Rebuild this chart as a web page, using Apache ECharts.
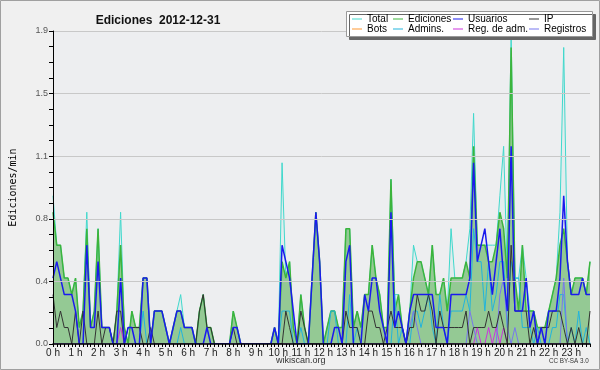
<!DOCTYPE html>
<html>
<head>
<meta charset="utf-8">
<script src="https://cdn.jsdelivr.net/npm/echarts@6/dist/echarts.min.js"></script>
<style>
html,body{margin:0;padding:0;background:#f0f0f0;}
#c{width:600px;height:370px;}
</style>
</head>
<body>
<div id="c"></div>
<script>
// Hour tick labels (one every 6 ten-minute slots)
const hourLabels = ['0 h','1 h','2 h','3 h','4 h','5 h','6 h','7 h','8 h','9 h','10 h','11 h',
  '12 h','13 h','14 h','15 h','16 h','17 h','18 h','19 h','20 h','21 h','22 h','23 h'];
// 10-minute slots of the day
const slots = [];
for (let h = 0; h < 24; h++) for (let m = 0; m < 60; m += 10) slots.push(h + ':' + (m < 10 ? '0' : '') + m);

const total = [
 0.9,0.6,0.6,0.4,0.4,0.3, 0.4,0.1,0.2,0.8,0.1,0.2, 0.7,0.1,0.1,0.1,0,0.2, 0.8,0.1,0,0.2,0.1,0.1,
 0.4,0.4,0,0.2,0.2,0.2, 0.1,0,0.1,0.2,0.3,0.1, 0.1,0.1,0,0.2,0.3,0.1, 0.1,0,0,0,0,0,
 0.2,0.1,0,0,0,0, 0,0,0,0,0,0.1, 0,1.1,0.4,0.5,0.1,0, 0.3,0.1,0,0.4,0.8,0.5,
 0,0.1,0.2,0.2,0.1,0.1, 0.7,0.7,0.1,0.2,0.1,0.3, 0.3,0.6,0.4,0.3,0.1,0.1, 1.0,0.3,0.3,0.1,0,0.2,
 0.6,0.5,0.5,0.4,0.3,0.6, 0.3,0.3,0.4,0.2,0.7,0.4, 0.4,0.4,0.5,0.7,1.4,0.6, 0.6,0.6,0.6,0.6,0.6,0.9,
 1.2,0.4,1.9,0.4,0.4,0.6, 0.4,0.2,0.2,0.1,0.1,0.1, 0.2,0.3,0.4,0.8,1.8,0.5, 0.3,0.4,0.4,0.4,0.3,0.5
];
const ediciones = [
 0.8,0.6,0.6,0.4,0.4,0.3, 0.4,0.1,0.2,0.7,0.1,0.2, 0.7,0.1,0.1,0.1,0,0.2, 0.6,0.1,0,0.2,0.1,0.1,
 0.4,0.4,0,0.2,0.2,0.2, 0.1,0,0.1,0.2,0.2,0.1, 0.1,0.1,0,0.2,0.3,0.1, 0.1,0,0,0,0,0,
 0.2,0.1,0,0,0,0, 0,0,0,0,0,0.1, 0,0.5,0.4,0.5,0.1,0, 0.3,0.1,0,0.4,0.8,0.5,
 0,0.1,0.2,0.2,0.1,0.1, 0.7,0.7,0.1,0.2,0.1,0.3, 0.3,0.6,0.4,0.3,0.1,0.1, 1.0,0.2,0.3,0.1,0,0.2,
 0.4,0.5,0.5,0.4,0.3,0.6, 0.3,0.3,0.4,0.2,0.4,0.4, 0.4,0.4,0.5,0.4,1.2,0.6, 0.6,0.6,0.5,0.5,0.6,0.8,
 0.7,0.4,1.8,0.4,0.2,0.6, 0.2,0.2,0.2,0.1,0.1,0.1, 0.2,0.3,0.4,0.6,0.7,0.5, 0.3,0.4,0.4,0.4,0.3,0.5
];
const usuarios = [
 0.4,0.5,0.4,0.3,0.3,0.3, 0.2,0,0,0.6,0.1,0.1, 0.5,0.1,0.1,0.1,0,0, 0.4,0,0.1,0.1,0,0,
 0.4,0.4,0,0.2,0.2,0.2, 0.1,0,0.1,0.2,0.2,0.1, 0.1,0.1,0,0,0,0.1, 0,0,0,0,0,0,
 0.1,0.1,0,0,0,0, 0,0,0,0,0,0.1, 0,0.6,0.5,0.4,0.2,0, 0,0,0,0.4,0.8,0.5,
 0,0,0,0.1,0.1,0, 0.5,0.6,0,0,0,0.3, 0.2,0.4,0.4,0.2,0.1,0, 0.8,0.1,0.2,0.1,0,0.2,
 0.3,0.3,0.3,0.3,0.3,0.3, 0.1,0.1,0.1,0,0.3,0.3, 0.3,0.3,0.3,0.4,1.1,0.5, 0.6,0.7,0.5,0.3,0.5,0.7,
 0.4,0.2,1.2,0.2,0.2,0.2, 0.4,0.1,0.2,0,0.1,0, 0.2,0.2,0.2,0.4,0.9,0.5, 0.3,0.3,0.3,0.4,0.3,0.3
];
const ip = [
 0.3,0.1,0.2,0.1,0.1,0, 0.2,0,0.2,0,0,0, 0.2,0,0.1,0.1,0,0.2, 0.2,0,0.1,0.1,0.1,0.1,
 0,0,0.1,0,0,0, 0,0,0,0,0,0, 0,0,0,0.2,0.3,0.1, 0.1,0,0,0,0,0,
 0.1,0,0,0,0,0, 0,0,0,0,0,0, 0,0,0.2,0.1,0,0, 0.2,0.1,0,0,0,0,
 0,0,0,0,0,0, 0.2,0.1,0.1,0.1,0,0, 0.2,0.2,0.1,0.1,0,0.1, 0.2,0.1,0.1,0.1,0,0.1,
 0.1,0.3,0.2,0.2,0.3,0.2, 0,0.2,0.1,0.1,0.1,0.1, 0.1,0.1,0.2,0,0.1,0.1, 0.1,0.1,0.2,0.1,0.1,0.2,
 0.1,0,0.6,0.2,0.2,0.2, 0.2,0,0.1,0,0.1,0.1, 0.1,0.2,0.2,0.2,0.1,0, 0.1,0,0.1,0,0,0.2
];
const bots = [
 0,0,0,0,0,0, 0,0,0,0,0,0, 0,0,0,0,0,0, 0,0,0,0,0,0,
 0,0,0,0,0,0, 0,0,0,0,0,0, 0,0,0,0,0,0, 0,0,0,0,0,0,
 0,0,0,0,0,0, 0,0,0,0,0,0, 0,0,0,0,0,0, 0,0,0,0,0,0,
 0,0,0,0,0,0, 0,0,0,0,0,0, 0,0,0,0,0,0, 0,0,0,0,0,0,
 0,0,0,0,0,0, 0,0,0,0,0,0, 0,0,0,0,0,0, 0,0,0,0,0,0,
 0,0,0,0,0,0, 0,0,0,0,0,0, 0,0,0,0,0,0, 0,0,0,0,0,0
];
const admins = [
 0,0,0,0,0,0, 0,0,0,0,0,0, 0,0,0,0,0,0, 0,0,0,0,0,0,
 0.2,0,0,0,0,0, 0,0,0,0,0.1,0, 0,0,0,0,0,0, 0,0,0,0,0,0,
 0,0,0,0,0,0, 0,0,0,0,0,0, 0,0.2,0.2,0.2,0,0, 0.1,0,0,0,0,0,
 0,0,0.2,0.2,0,0, 0,0.3,0,0.1,0,0, 0,0,0,0,0,0, 0,0.3,0,0.1,0,0,
 0.2,0.2,0.1,0.2,0.3,0.1, 0,0.3,0.1,0,0.2,0.2, 0.2,0.2,0.3,0.2,0.7,0.5, 0.5,0.2,0.5,0.2,0.3,0.5,
 0.5,0.1,0.5,0.4,0.4,0.1, 0.1,0.1,0,0.1,0,0, 0,0.1,0.1,0.3,0.3,0, 0.1,0,0.2,0,0.1,0
];
const regAdm = [
 0,0,0,0,0,0, 0,0,0,0,0,0, 0,0,0,0,0,0, 0.1,0,0,0,0,0,
 0,0,0,0,0,0, 0,0,0,0,0,0, 0,0,0,0,0,0, 0,0,0,0,0,0,
 0,0,0,0,0,0, 0,0,0,0,0,0, 0,0,0,0,0,0, 0,0,0,0,0,0,
 0,0,0,0,0,0, 0,0,0,0,0,0, 0,0,0,0,0,0, 0,0,0,0,0,0,
 0,0,0,0,0,0, 0,0,0,0,0,0, 0,0,0,0,0,0.1, 0,0,0.1,0,0.1,0,
 0.1,0,0,0,0,0, 0,0,0,0,0,0, 0,0,0,0,0,0, 0,0,0,0,0,0
];
const registros = [
 0,0,0,0,0,0, 0,0,0,0,0,0, 0,0,0,0,0,0, 0,0,0,0,0,0,
 0,0,0,0,0,0, 0,0,0,0,0,0, 0,0,0,0,0,0, 0,0,0,0,0,0,
 0,0,0,0,0,0, 0,0,0,0,0,0, 0,0,0,0,0,0, 0,0,0,0,0,0,
 0,0,0,0,0,0, 0,0,0,0,0,0, 0,0,0,0,0,0, 0,0,0,0,0,0.1,
 0.2,0.1,0,0,0,0, 0,0,0,0,0,0, 0,0,0,0.2,0.1,0, 0,0,0,0,0,0.3,
 0.4,0.1,0,0.1,0,0, 0,0,0,0,0,0, 0,0,0,0,0.4,0, 0,0,0,0,0,0
];

const colors = {
  'Total':'#40d8cc','Ediciones':'#3cb43c','Usuarios':'#1a1aee','IP':'#333333',
  'Bots':'#ff9933','Admins.':'#22b4dc','Reg. de adm.':'#cc33dd','Registros':'#7777ee'
};
function line(name, data, width, extra) {
  return Object.assign({
    name: name, type: 'line', data: data, symbol: 'none', showSymbol: false,
    lineStyle: {color: colors[name], width: width}, itemStyle: {color: colors[name]},
    emphasis: {disabled: true}
  }, extra || {});
}
const legendCols = [[352,'Total','Bots'],[393,'Ediciones','Admins.'],[453,'Usuarios','Reg. de adm.'],[529,'IP','Registros']];
const legends = [];
legendCols.forEach(c => {
  [c[1], c[2]].forEach((n, r) => {
    legends.push({
      data: [n], left: c[0], top: 13 + r * 10, padding: 0, itemGap: 0,
      itemWidth: 10, itemHeight: 1, icon: 'rect', z: 51,
      textStyle: {fontFamily: 'Liberation Sans', fontSize: 10, color: '#000', lineHeight: 12}
    });
  });
});

const chart = echarts.init(document.getElementById('c'), null, {renderer: 'canvas'});
chart.setOption({
  backgroundColor: '#f0f0f0',
  animation: false,
  title: {
    text: 'Ediciones  2012-12-31', left: 153, top: 10, textAlign: 'center',
    textStyle: {fontFamily: 'Liberation Sans', fontWeight: 'bold', fontSize: 12, color: '#111'}
  },
  legend: legends,
  grid: {left: 47, right: 10, top: 31, bottom: 26, show: true, backgroundColor: '#edeef0', borderWidth: 0},
  xAxis: {
    type: 'category', data: slots, boundaryGap: false, z: 10,
    axisLine: {lineStyle: {color: '#000', width: 1.5}},
    axisTick: {interval: 0, length: 3, lineStyle: {color: '#000'}},
    axisLabel: {interval: 5, formatter: (v, i) => hourLabels[Math.round(i / 6)],
      fontFamily: 'Liberation Sans', fontSize: 10, color: '#222', margin: 4},
    splitLine: {show: false}
  },
  yAxis: {
    type: 'value', min: 0, max: 1.9, interval: 0.38, z: 10,
    name: 'Ediciones/min', nameLocation: 'middle', nameGap: 35,
    nameTextStyle: {fontFamily: 'DejaVu Sans Mono', fontSize: 10, color: '#000'},
    axisLine: {show: true, lineStyle: {color: '#000'}},
    axisTick: {show: true, length: 4, lineStyle: {color: '#000'}},
    minorTick: {show: true, splitNumber: 4, length: 4, lineStyle: {color: '#000'}},
    axisLabel: {formatter: v => v.toFixed(1), fontFamily: 'Liberation Sans', fontSize: 9, color: '#555', margin: 5},
    splitLine: {lineStyle: {color: '#c8c8c8'}}
  },
  series: [
    line('Total', total, 1, {areaStyle: {color: 'rgba(64,216,204,0.10)'}}),
    line('Ediciones', ediciones, 1.5, {areaStyle: {color: '#94c994', opacity: 1}}),
    line('Bots', bots, 1),
    line('Admins.', admins, 1),
    line('Reg. de adm.', regAdm, 1),
    line('Registros', registros, 1),
    line('IP', ip, 1),
    line('Usuarios', usuarios, 1.5)
  ],
  graphic: [
    {type: 'rect', z: 100, silent: true, shape: {x: 0.5, y: 0.5, width: 599, height: 369},
      style: {fill: 'none', stroke: '#a0a0a0', lineWidth: 1}},
    {type: 'rect', z: 50, silent: true, shape: {x: 346.5, y: 11.5, width: 246, height: 25},
      style: {fill: '#ffffff', stroke: '#999999', lineWidth: 1, shadowColor: '#666666', shadowOffsetX: 3, shadowOffsetY: 3, shadowBlur: 0}},
    {type: 'text', z: 50, silent: true, left: 276, top: 356,
      style: {text: 'wikiscan.org', font: '9px "Liberation Sans"', fill: '#333'}},
    {type: 'text', z: 50, silent: true, left: 549, top: 358,
      style: {text: 'CC BY-SA 3.0', font: '6.3px "Liberation Sans"', fill: '#333'}}
  ]
});
</script>
</body>
</html>
